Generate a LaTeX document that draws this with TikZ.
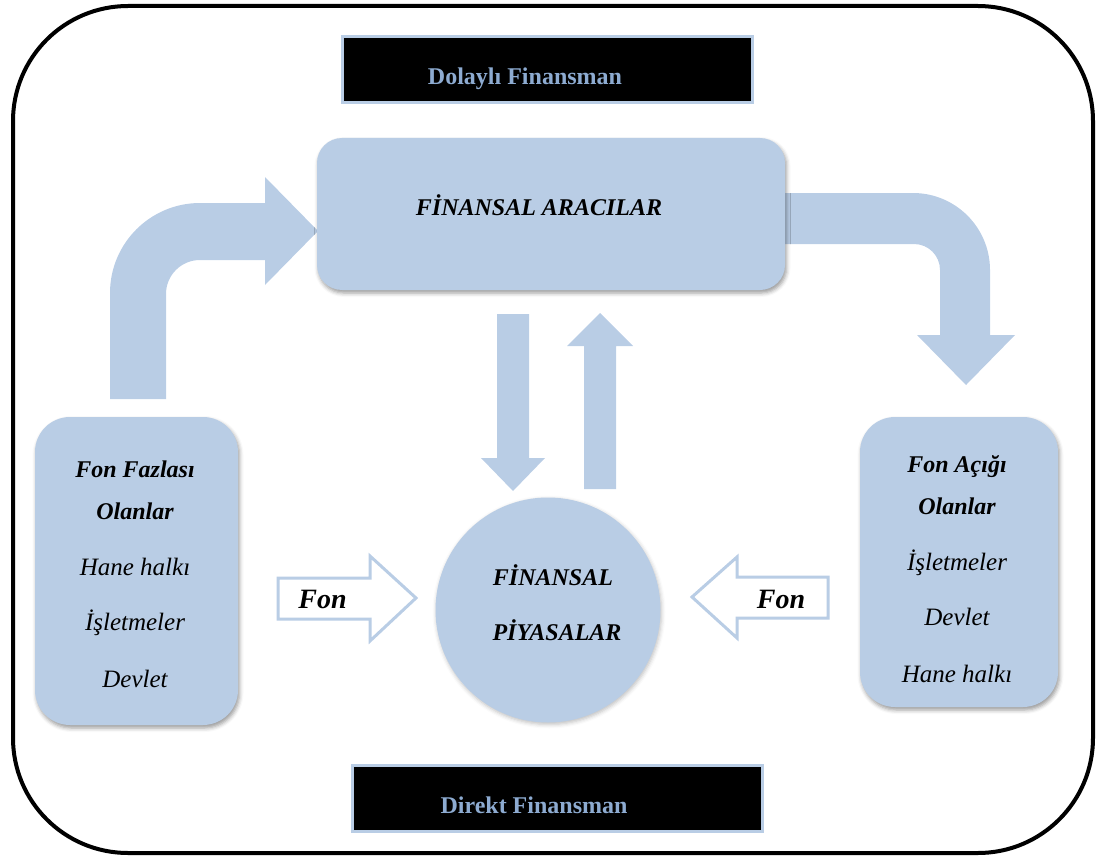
\documentclass[tikz,border=0pt]{standalone}
\usepackage{fontspec}
\setmainfont{Liberation Serif}
\usetikzlibrary{shadows.blur}
\definecolor{paleblue}{RGB}{185,205,229}
\definecolor{tagtext}{RGB}{141,171,209}
\begin{document}
\begin{tikzpicture}[x=1pt,y=-1pt,
  panel/.style={fill=paleblue, draw=none, inner sep=0pt, rounded corners=#1,
    blur shadow={shadow xshift=1.5pt, shadow yshift=-3pt,
      shadow blur radius=4pt, shadow opacity=40}},
  tagbox/.style={fill=black, draw=paleblue, line width=3pt, inner sep=0pt},
  tagtxt/.style={font=\fontsize{24}{28}\selectfont\bfseries, text=tagtext, anchor=base},
  head/.style={font=\fontsize{24}{28}\selectfont\bfseries\itshape, anchor=base, inner sep=0pt},
  item/.style={font=\fontsize{25}{29}\selectfont\itshape, anchor=base, inner sep=0pt},
  fontxt/.style={font=\fontsize{28}{32}\selectfont\bfseries\itshape, anchor=base, inner sep=0pt},
  bigarrow/.style={fill=paleblue, draw=none},
  hollowarrow/.style={fill=white, draw=paleblue, line width=3pt, line join=miter}
]
\useasboundingbox (0,0) rectangle (1105,864);

% outer frame
\draw[line width=4pt, rounded corners=115pt] (13,6) rectangle (1093,853);

% headings
\node[tagbox, minimum width=410pt, minimum height=66pt] (dolayli) at (547,70) {};
\node[tagtxt] (dolaylitxt) at (525,85) {Dolaylı Finansman};
\node[tagbox, minimum width=410pt, minimum height=66pt] (direkt) at (557,798) {};
\node[tagtxt] (direkttxt) at (534,813) {Direkt Finansman};

% bent arrow into the intermediaries
\path[bigarrow] (110,399) -- (110,293)
  .. controls (110,243.3) and (150.3,203) .. (200,203)
  -- (265,203) -- (265,177) -- (318,231) -- (265,285) -- (265,260)
  -- (200,260) .. controls (181.2,260) and (166,275.2) .. (166,294)
  -- (166,399) -- cycle;

% bent arrow out of the intermediaries
\path[bigarrow] (770,193) -- (913,193)
  .. controls (955.5,193) and (990,227.5) .. (990,270)
  -- (990,335) -- (1015,335) -- (966,385) -- (917,335) -- (940,335)
  -- (940,270) .. controls (940,255.6) and (928.4,244) .. (914,244)
  -- (770,244) -- cycle;

% intermediaries
\node[panel=25pt, minimum width=468pt, minimum height=152pt] (aracilar) at (551,214) {};
\node[head] (aracilartxt) at (539,215) {FİNANSAL ARACILAR};

% arrows between intermediaries and markets
\path[bigarrow] (497,314) -- (529,314) -- (529,458) -- (545,458) -- (513,491)
  -- (481,458) -- (497,458) -- cycle;
\path[bigarrow] (584,489) -- (584,346) -- (567,346) -- (600,313) -- (633,346)
  -- (616,346) -- (616,489) -- cycle;

% financial markets
\node[circle, fill=paleblue, minimum size=225pt, inner sep=0pt,
  blur shadow={shadow xshift=1pt, shadow yshift=-2pt, shadow blur radius=4pt, shadow opacity=25}]
  (piyasa) at (548,610) {};
\node[head] (piyasa1) at (553,585) {FİNANSAL};
\node[head] (piyasa2) at (557,640) {PİYASALAR};

% surplus units
\node[panel=35pt, minimum width=203pt, minimum height=308pt] (fazla) at (136.5,571) {};
\node[head] (fazla1) at (135,477) {Fon Fazlası};
\node[head] (fazla2) at (135,519) {Olanlar};
\node[item] (fazla3) at (135,575) {Hane halkı};
\node[item] (fazla4) at (135,630) {İşletmeler};
\node[item] (fazla5) at (135,687) {Devlet};

% deficit units
\node[panel=35pt, minimum width=198pt, minimum height=290pt] (acik) at (959,562) {};
\node[head] (acik1) at (957,472) {Fon Açığı};
\node[head] (acik2) at (957,514) {Olanlar};
\node[item] (acik3) at (957,570) {İşletmeler};
\node[item] (acik4) at (957,625) {Devlet};
\node[item] (acik5) at (957,682) {Hane halkı};

% fund flows into the markets
\draw[hollowarrow] (278,578) -- (370,578) -- (370,556) -- (416,598) -- (370,641)
  -- (370,619) -- (278,619) -- cycle;
\node[fontxt] (fonsol) at (322.5,608) {Fon};
\draw[hollowarrow] (828,577) -- (737,577) -- (737,557) -- (692,597) -- (737,638)
  -- (737,618) -- (828,618) -- cycle;
\node[fontxt] (fonsag) at (781,608) {Fon};
\end{tikzpicture}
\end{document}
